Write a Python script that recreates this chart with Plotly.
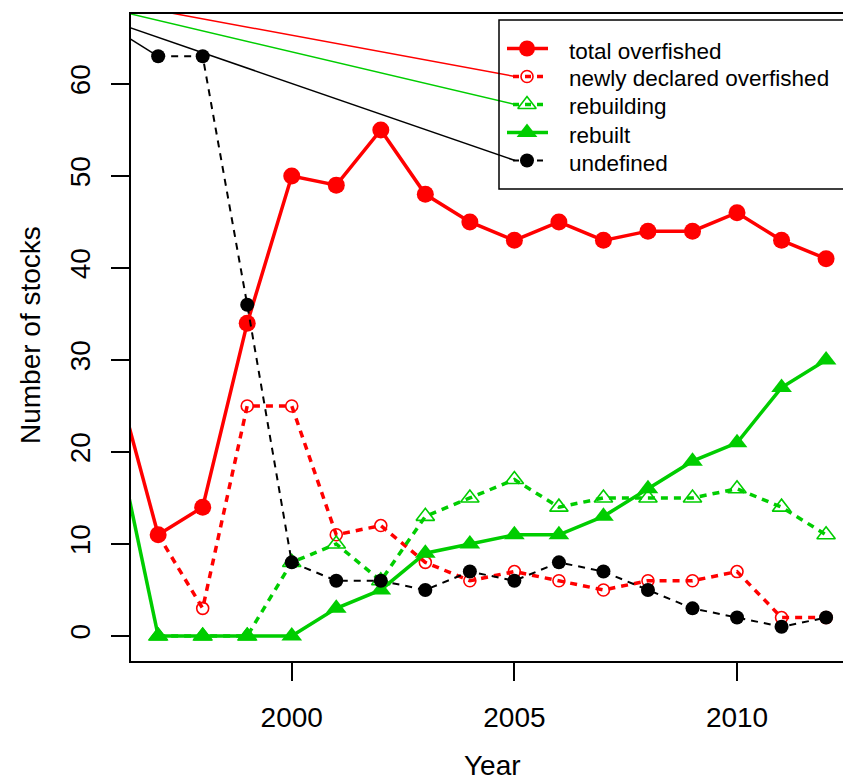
import plotly.graph_objects as go

# ---------------- data ----------------
years = list(range(1997, 2013))
total_overfished = [11, 14, 34, 50, 49, 55, 48, 45, 43, 45, 43, 44, 44, 46, 43, 41]
newly_declared = [11, 3, 25, 25, 11, 12, 8, 6, 7, 6, 5, 6, 6, 7, 2, 2]
rebuilding = [0, 0, 0, 8, 10, 6, 13, 15, 17, 14, 15, 15, 15, 16, 14, 11]
rebuilt = [0, 0, 0, 0, 3, 5, 9, 10, 11, 11, 13, 16, 19, 21, 27, 30]
undefined = [63, 63, 36, 8, 6, 6, 5, 7, 6, 8, 7, 5, 3, 2, 1, 2]

# off-chart values (1996) that produce the lead-in strokes at the left edge
lead_year = 1996
lead_total = 29
lead_rebuilt = 23
lead_undefined = 66

x_ticks = [2000, 2005, 2010]
y_ticks = [0, 10, 20, 30, 40, 50, 60]
legend_labels = ["total overfished", "newly declared overfished",
                 "rebuilding", "rebuilt", "undefined"]

RED = "#FF0000"
GREEN = "#00CD00"
BLACK = "#000000"
FONT = "Liberation Sans, Arial, Helvetica, sans-serif"

# plot area geometry (pixels) for overlay / paper helpers
L, R, T, B = 131, 843, 14, 661
def px(x):
    return (x - L) / (R - L)
def py(y):
    return (B - y) / (B - T)

fig = go.Figure()

# lead-in strokes
fig.add_trace(go.Scatter(x=[lead_year, years[0]], y=[lead_total, total_overfished[0]],
                         mode="lines", line=dict(color=RED, width=3.5), hoverinfo="skip"))
fig.add_trace(go.Scatter(x=[lead_year, years[0]], y=[lead_rebuilt, rebuilt[0]],
                         mode="lines", line=dict(color=GREEN, width=3.5), hoverinfo="skip"))
fig.add_trace(go.Scatter(x=[lead_year, years[0]], y=[lead_undefined, undefined[0]],
                         mode="lines", line=dict(color=BLACK, width=1.5), hoverinfo="skip"))

# series
fig.add_trace(go.Scatter(x=years, y=total_overfished, mode="lines+markers",
                         line=dict(color=RED, width=3.5),
                         marker=dict(symbol="circle", size=17, color=RED)))
fig.add_trace(go.Scatter(x=years, y=newly_declared, mode="lines+markers",
                         line=dict(color=RED, width=3.5, dash="7px,6px"),
                         marker=dict(symbol="circle-open", size=12, color=RED,
                                     line=dict(width=1.6, color=RED))))
fig.add_trace(go.Scatter(x=years, y=rebuilding, mode="lines+markers",
                         line=dict(color=GREEN, width=3.5, dash="7px,6px"),
                         marker=dict(symbol="triangle-up-open", size=16, color=GREEN,
                                     line=dict(width=1.6, color=GREEN))))
fig.add_trace(go.Scatter(x=years, y=rebuilt, mode="lines+markers",
                         line=dict(color=GREEN, width=3.5),
                         marker=dict(symbol="triangle-up", size=18, color=GREEN)))
fig.add_trace(go.Scatter(x=years, y=undefined, mode="lines+markers",
                         line=dict(color=BLACK, width=2, dash="7px,6px"),
                         marker=dict(symbol="circle", size=14, color=BLACK)))

# ---------------- manual legend (overlay axes in plot-fraction units) -------------
row_y = [48.5, 76.5, 104.5, 132.5, 160.5]
colors = [RED, RED, GREEN, GREEN, BLACK]
dashes = ["solid", "6px,6px", "6px,6px", "solid", "6px,6px"]
widths = [3.5, 3.5, 3.5, 3.5, 2]
symbols = ["circle", "circle-open", "triangle-up-open", "triangle-up", "circle"]
sizes = [16, 12, 16, 18, 14]

# thin connector strokes arriving at legend keys
connectors = [
    (RED, (100, -0.1), (515, 76.5)),
    (GREEN, (100, 6.7), (515, 104.5)),
    (BLACK, (100, 17.3), (515, 160.5)),
]
for c, (x0, y0), (x1, y1) in connectors:
    fig.add_trace(go.Scatter(x=[px(x0), px(x1)], y=[py(y0), py(y1)], xaxis="x2", yaxis="y2",
                             mode="lines", line=dict(color=c, width=1.5), hoverinfo="skip"))

for i in range(5):
    x0 = 507 if dashes[i] == "solid" else 513
    fig.add_trace(go.Scatter(x=[px(x0), px(548)], y=[py(row_y[i]), py(row_y[i])],
                             xaxis="x2", yaxis="y2", mode="lines",
                             line=dict(color=colors[i], width=widths[i], dash=dashes[i]),
                             hoverinfo="skip"))
    op = "open" in symbols[i]
    fig.add_trace(go.Scatter(x=[px(527)], y=[py(row_y[i])], xaxis="x2", yaxis="y2",
                             mode="markers",
                             marker=dict(symbol=symbols[i], size=sizes[i], color=colors[i],
                                         line=dict(width=1.6 if op else 0, color=colors[i])),
                             hoverinfo="skip"))

annotations = []
for i, lab in enumerate(legend_labels):
    annotations.append(dict(xref="paper", yref="paper", x=px(567), y=py(row_y[i] + 2.5),
                            text=lab, showarrow=False, xanchor="left", yanchor="middle",
                            font=dict(family=FONT, size=22.5, color="black")))

# axis titles
annotations.append(dict(xref="paper", yref="paper", x=px(492), y=py(765), text="Year",
                        showarrow=False, xanchor="center", yanchor="middle",
                        font=dict(family=FONT, size=28, color="black")))
annotations.append(dict(xref="paper", yref="paper", x=px(30), y=py(335), text="Number of stocks",
                        showarrow=False, xanchor="center", yanchor="middle", textangle=-90,
                        font=dict(family=FONT, size=28, color="black")))

shapes = [dict(type="rect", xref="paper", yref="paper", x0=px(499), x1=1.02,
               y0=py(189), y1=py(20), line=dict(color="black", width=1.5),
               fillcolor="rgba(0,0,0,0)", layer="above")]

fig.update_layout(
    width=843, height=782,
    margin=dict(l=L, r=843 - R, t=T, b=782 - B, pad=0),
    paper_bgcolor="white", plot_bgcolor="white",
    showlegend=False,
    font=dict(family=FONT, size=28, color="black"),
    annotations=annotations,
    shapes=shapes,
    xaxis=dict(range=[1996.39, 2012.38], tickmode="array", tickvals=x_ticks,
               ticktext=[str(v) for v in x_ticks],
               showgrid=False, zeroline=False, showline=True, mirror=True,
               linecolor="black", linewidth=2, ticks="outside", ticklen=18, tickwidth=2,
               tickcolor="black", ticklabelstandoff=12,
               tickfont=dict(family=FONT, size=28, color="black")),
    yaxis=dict(range=[-2.72, 67.6], tickmode="array", tickvals=y_ticks,
               ticktext=[str(v) for v in y_ticks],
               showgrid=False, zeroline=False, showline=True, mirror=False,
               linecolor="black", linewidth=2, ticks="outside", ticklen=18, tickwidth=2,
               tickcolor="black", tickangle=-90, ticklabelstandoff=10,
               tickfont=dict(family=FONT, size=28, color="black")),
    xaxis2=dict(range=[0, 1], overlaying="x", visible=False, fixedrange=True),
    yaxis2=dict(range=[0, 1], overlaying="y", visible=False, fixedrange=True),
)

fig.write_html("out.html", config={"displayModeBar": False},
               post_script="document.body.style.margin='0';document.body.style.overflow='hidden';")
